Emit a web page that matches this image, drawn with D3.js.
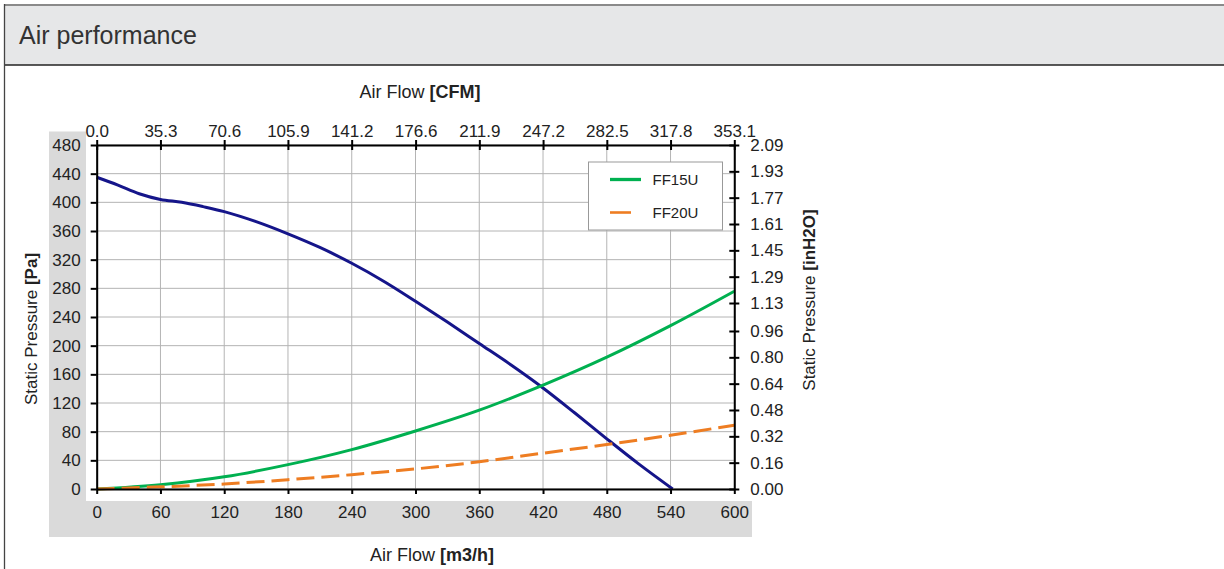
<!DOCTYPE html>
<html>
<head>
<meta charset="utf-8">
<script src="https://cdn.jsdelivr.net/npm/d3@7"></script>
<style>
  body { margin: 0; background: #fff; }
  svg { display: block; font-family: "Liberation Sans", Arial, sans-serif; }
</style>
</head>
<body>
<svg id="chart" width="1224" height="569"></svg>
<script>
// tick labels
var flowTicks = [0, 60, 120, 180, 240, 300, 360, 420, 480, 540, 600];
var paTicks = [0, 40, 80, 120, 160, 200, 240, 280, 320, 360, 400, 440, 480];
var cfmTicks = [0.0, 35.3, 70.6, 105.9, 141.2, 176.6, 211.9, 247.2, 282.5, 317.8, 353.1];
var inH2OTicks = [0.00, 0.16, 0.32, 0.48, 0.64, 0.80, 0.96, 1.13, 1.29, 1.45, 1.61, 1.77, 1.93, 2.09];

// fan curve (no legend entry)
var fanFlow = [0, 20, 40, 60, 80, 100, 120, 150, 180, 210, 240, 270, 300, 330, 360, 390, 420, 450, 480, 510, 542];
var fanPa = [435, 424, 412, 404, 400, 394, 387, 373, 356, 337, 315, 290, 262, 233, 203, 173, 141, 106, 70, 35, 0];

// filter curves
var filterFlow = [0, 60, 120, 180, 240, 300, 360, 420, 480, 540, 600];
var ff15uPa = [0, 6, 17, 34, 55, 81, 110, 145, 184, 228, 276];
var ff20uPa = [0, 3, 7, 13, 20, 28, 38, 50, 62, 75, 89];

var seriesNames = ["FF15U", "FF20U"];
var colors = { FF15U: "#00b050", FF20U: "#ee7d22", fan: "#15158a" };

var svg = d3.select("#chart");

// header box
svg.append("rect").attr("x", 4.5).attr("y", 5).attr("width", 1230).attr("height", 60).attr("fill", "#e6e7e8");
svg.append("line").attr("x1", 4).attr("x2", 1224).attr("y1", 5).attr("y2", 5).attr("stroke", "#8a8a8a").attr("stroke-width", 2);
svg.append("line").attr("x1", 4).attr("x2", 1224).attr("y1", 65).attr("y2", 65).attr("stroke", "#222").attr("stroke-width", 1.5);
svg.append("line").attr("x1", 4.5).attr("x2", 4.5).attr("y1", 4).attr("y2", 569).attr("stroke", "#444").attr("stroke-width", 1.3);
svg.append("text").attr("x", 19).attr("y", 44).attr("font-size", 25).attr("fill", "#333")
    .attr("font-weight", 300).text("Air performance");

var plotL = 96.7, plotR = 734.3, plotT = 145, plotB = 489;

// grey label backgrounds
svg.append("path")
    .attr("d", "M49,131.5 H86 V501 H752 V537 H49 Z")
    .attr("fill", "#dadada");

var x = d3.scaleLinear().domain([0, 600]).range([plotL, plotR]);
var xTop = d3.scaleLinear().domain([0, 353.1]).range([plotL, plotR]);
var y = d3.scaleLinear().domain([0, 480]).range([plotB, plotT]);
var yR = d3.scaleLinear().domain([0, 2.09]).range([plotB, plotT]);

var g = svg.append("g");

// grid
g.selectAll(".vgrid").data(flowTicks).enter().append("line")
    .attr("x1", d => x(d)).attr("x2", d => x(d)).attr("y1", plotT).attr("y2", plotB)
    .attr("stroke", "#b4b4b4").attr("stroke-width", 1);
g.selectAll(".hgrid").data(paTicks).enter().append("line")
    .attr("x1", plotL).attr("x2", plotR).attr("y1", d => y(d)).attr("y2", d => y(d))
    .attr("stroke", "#b4b4b4").attr("stroke-width", 1);

// axes
function styleAxis(sel) {
    sel.select(".domain").attr("stroke", "#000").attr("stroke-width", 2);
    sel.selectAll(".tick line").attr("stroke", "#000").attr("stroke-width", 2);
    sel.selectAll(".tick text").attr("font-size", 17).attr("fill", "#222")
        .attr("font-family", "'Liberation Sans', Arial, sans-serif");
}

var axB = svg.append("g").attr("transform", "translate(0," + plotB + ")")
    .call(d3.axisBottom(x).tickValues(flowTicks).tickSize(5).tickPadding(12).tickSizeOuter(0));
styleAxis(axB);

var axL = svg.append("g").attr("transform", "translate(" + plotL + ",0)")
    .call(d3.axisLeft(y).tickValues(paTicks).tickSize(6).tickPadding(10).tickSizeOuter(0));
styleAxis(axL);

var axT = svg.append("g").attr("transform", "translate(0," + plotT + ")")
    .call(d3.axisTop(xTop).tickValues(cfmTicks).tickFormat(d3.format(".1f")).tickSize(5).tickPadding(3).tickSizeOuter(0));
styleAxis(axT);
axT.selectAll(".tick line").attr("y1", 5).attr("y2", -5);

var axR = svg.append("g").attr("transform", "translate(" + plotR + ",0)")
    .call(d3.axisRight(yR).tickValues(inH2OTicks).tickFormat(d3.format(".2f")).tickSize(5).tickPadding(11).tickSizeOuter(0));
styleAxis(axR);
axR.selectAll(".tick line").attr("x1", -5).attr("x2", 5);

// axis titles
var t1 = svg.append("text").attr("x", 420).attr("y", 98).attr("text-anchor", "middle").attr("font-size", 18).attr("fill", "#222");
t1.append("tspan").text("Air Flow ");
t1.append("tspan").attr("font-weight", "bold").text("[CFM]");

var t2 = svg.append("text").attr("x", 432).attr("y", 561).attr("text-anchor", "middle").attr("font-size", 18).attr("fill", "#222");
t2.append("tspan").text("Air Flow ");
t2.append("tspan").attr("font-weight", "bold").text("[m3/h]");

var t3 = svg.append("text").attr("transform", "translate(37,329) rotate(-90)").attr("text-anchor", "middle").attr("font-size", 17).attr("fill", "#222");
t3.append("tspan").text("Static Pressure ");
t3.append("tspan").attr("font-weight", "bold").text("[Pa]");

var t4 = svg.append("text").attr("transform", "translate(815,300) rotate(-90)").attr("text-anchor", "middle").attr("font-size", 17).attr("fill", "#222");
t4.append("tspan").text("Static Pressure ");
t4.append("tspan").attr("font-weight", "bold").text("[inH2O]");

// lines
var line = d3.line().x(d => x(d[0])).y(d => y(d[1])).curve(d3.curveCatmullRom.alpha(0.5));

var ff20 = filterFlow.map((f, i) => [f, ff20uPa[i]]);
var ff15 = filterFlow.map((f, i) => [f, ff15uPa[i]]);
var fan = fanFlow.map((f, i) => [f, fanPa[i]]);

g.append("path").datum(fan).attr("d", line).attr("fill", "none")
    .attr("stroke", colors.fan).attr("stroke-width", 3);
g.append("path").datum(ff15).attr("d", line).attr("fill", "none")
    .attr("stroke", colors.FF15U).attr("stroke-width", 3);
g.append("path").datum(ff20).attr("d", line).attr("fill", "none")
    .attr("stroke", colors.FF20U).attr("stroke-width", 3).attr("stroke-dasharray", "18,7");

// legend
var lg = svg.append("g").attr("transform", "translate(588.5,162)");
lg.append("rect").attr("width", 134).attr("height", 68).attr("fill", "#fff").attr("stroke", "#999").attr("stroke-width", 1);
seriesNames.forEach(function (name, i) {
    var yy = 17.5 + i * 33;
    lg.append("line").attr("x1", 21.5).attr("x2", i == 0 ? 52.5 : 42.5).attr("y1", yy).attr("y2", yy)
        .attr("stroke", colors[name]).attr("stroke-width", i == 0 ? 3.3 : 2.6);
    lg.append("text").attr("x", 64).attr("y", yy + 5.5).attr("font-size", 15).attr("fill", "#222").text(name);
});
</script>
</body>
</html>
